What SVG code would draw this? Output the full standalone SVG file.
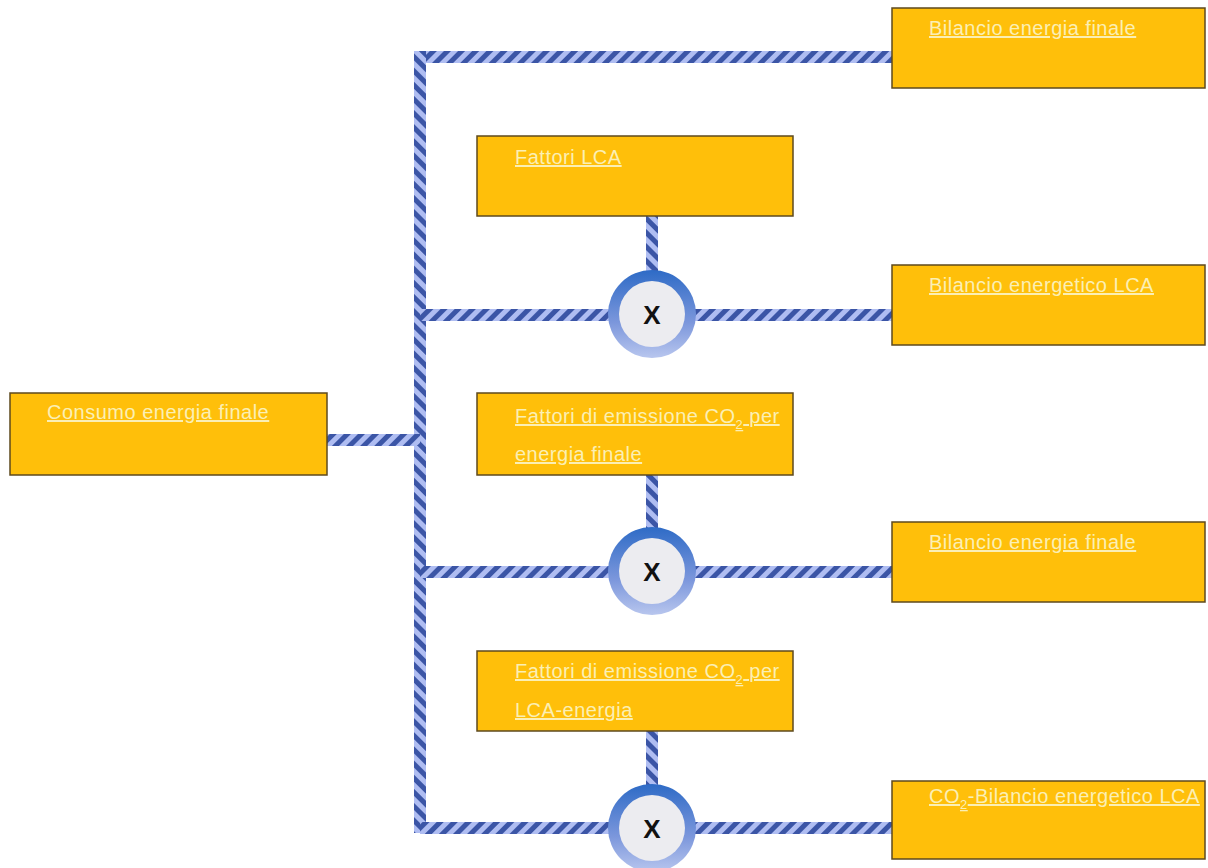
<svg xmlns="http://www.w3.org/2000/svg" width="1208" height="868" viewBox="0 0 1208 868">
<style>
.box{fill:#FFBF0A;stroke:#5E4A1E;stroke-width:1.5}
.t{font-family:"Liberation Sans",Arial,sans-serif;font-size:20px;letter-spacing:0.5px;fill:#FBEFB4;text-decoration:underline}
.sub{font-size:13px}
.x{font-family:"Liberation Sans",Arial,sans-serif;font-size:26px;font-weight:bold;fill:#111;text-anchor:middle}
.inner{fill:#ECECF0}
</style>
<defs>
<pattern id="hH" patternUnits="userSpaceOnUse" width="10" height="10" patternTransform="rotate(45)">
<rect width="10" height="10" fill="#AFBDF2"/><rect width="5" height="10" fill="#3B55A6"/>
</pattern>
<pattern id="hV" patternUnits="userSpaceOnUse" width="10" height="10" patternTransform="rotate(-45)">
<rect width="10" height="10" fill="#AFBDF2"/><rect width="5" height="10" fill="#3B55A6"/>
</pattern>
<linearGradient id="ring" x1="0" y1="0" x2="0" y2="1">
<stop offset="0" stop-color="#2E6BC6"/><stop offset="0.6" stop-color="#7C97DC"/><stop offset="1" stop-color="#B8C6EE"/>
</linearGradient>
</defs>
<g id="connectors">
<rect x="414" y="51" width="478" height="12" fill="url(#hH)"/>
<rect x="414" y="51" width="12" height="782" fill="url(#hV)"/>
<rect x="327" y="434" width="93" height="12" fill="url(#hH)"/>
<rect x="420" y="309" width="472" height="12" fill="url(#hH)"/>
<rect x="420" y="566" width="472" height="12" fill="url(#hH)"/>
<rect x="420" y="822" width="472" height="12" fill="url(#hH)"/>
<rect x="646" y="216" width="12" height="60" fill="url(#hV)"/>
<rect x="646" y="475" width="12" height="60" fill="url(#hV)"/>
<rect x="646" y="731" width="12" height="60" fill="url(#hV)"/>
</g>
<g id="mult1"><circle cx="652" cy="314" r="44" fill="url(#ring)"/><circle class="inner" cx="652" cy="314" r="33"/><text class="x" x="652" y="324">X</text></g>
<g id="mult2"><circle cx="652" cy="571" r="44" fill="url(#ring)"/><circle class="inner" cx="652" cy="571" r="33"/><text class="x" x="652" y="581">X</text></g>
<g id="mult3"><circle cx="652" cy="828" r="44" fill="url(#ring)"/><circle class="inner" cx="652" cy="828" r="33"/><text class="x" x="652" y="838">X</text></g>
<g id="n1"><rect class="box" x="892" y="8" width="313" height="80"/><text class="t" x="929" y="35">Bilancio energia finale</text></g>
<g id="n2"><rect class="box" x="477" y="136" width="316" height="80"/><text class="t" x="515" y="164">Fattori LCA</text></g>
<g id="n3"><rect class="box" x="892" y="265" width="313" height="80"/><text class="t" x="929" y="292">Bilancio energetico LCA</text></g>
<g id="n4"><rect class="box" x="10" y="393" width="317" height="82"/><text class="t" x="47" y="419">Consumo energia finale</text></g>
<g id="n5"><rect class="box" x="477" y="393" width="316" height="82"/><text class="t" x="515" y="423">Fattori di emissione CO<tspan class="sub" dy="6">2</tspan><tspan dy="-6"> per</tspan></text><text class="t" x="515" y="461">energia finale</text></g>
<g id="n6"><rect class="box" x="892" y="522" width="313" height="80"/><text class="t" x="929" y="549">Bilancio energia finale</text></g>
<g id="n7"><rect class="box" x="477" y="651" width="316" height="80"/><text class="t" x="515" y="678">Fattori di emissione CO<tspan class="sub" dy="6">2</tspan><tspan dy="-6"> per</tspan></text><text class="t" x="515" y="717">LCA-energia</text></g>
<g id="n8"><rect class="box" x="892" y="781" width="313" height="78"/><text class="t" x="929" y="803">CO<tspan class="sub" dy="6">2</tspan><tspan dy="-6">-Bilancio energetico LCA</tspan></text></g>
</svg>
